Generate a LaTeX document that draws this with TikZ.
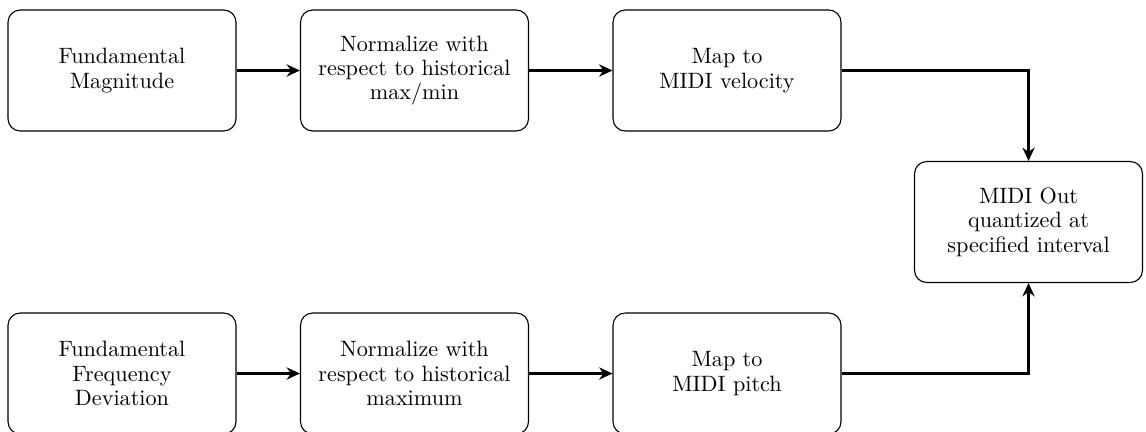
\documentclass[tikz,border=0pt]{standalone}
\usetikzlibrary{arrows.meta}
\begin{document}
\begin{tikzpicture}[x=0.4505pt,y=-0.4505pt,
  block/.style={draw, line width=0.5pt, rounded corners=5.5pt, minimum width=102.7pt, minimum height=54.5pt, align=center, inner sep=0pt, font=\fontsize{10}{11}\selectfont},
  flow/.style={line width=1.3pt, -{Stealth[length=6pt,width=5.5pt]}}]
\useasboundingbox (0,0) rectangle (1146,431);
\node[block] (a1) at (122,70.5) {Fundamental\\Magnitude};
\node[block] (a2) at (414.5,70.5) {Normalize with\\respect to historical\\max/min};
\node[block] (a3) at (727,70.5) {Map to\\MIDI velocity};
\node[block] (out) at (1028.5,222) {MIDI Out\\quantized at\\specified interval};
\node[block] (b1) at (122,373.5) {Fundamental\\Frequency\\Deviation};
\node[block] (b2) at (414.5,373.5) {Normalize with\\respect to historical\\maximum};
\node[block] (b3) at (727,373.5) {Map to\\MIDI pitch};
\draw[flow] (a1) -- (a2);
\draw[flow] (a2) -- (a3);
\draw[flow] (a3.east) -| (out.north);
\draw[flow] (b1) -- (b2);
\draw[flow] (b2) -- (b3);
\draw[flow] (b3.east) -| (out.south);
\end{tikzpicture}
\end{document}
